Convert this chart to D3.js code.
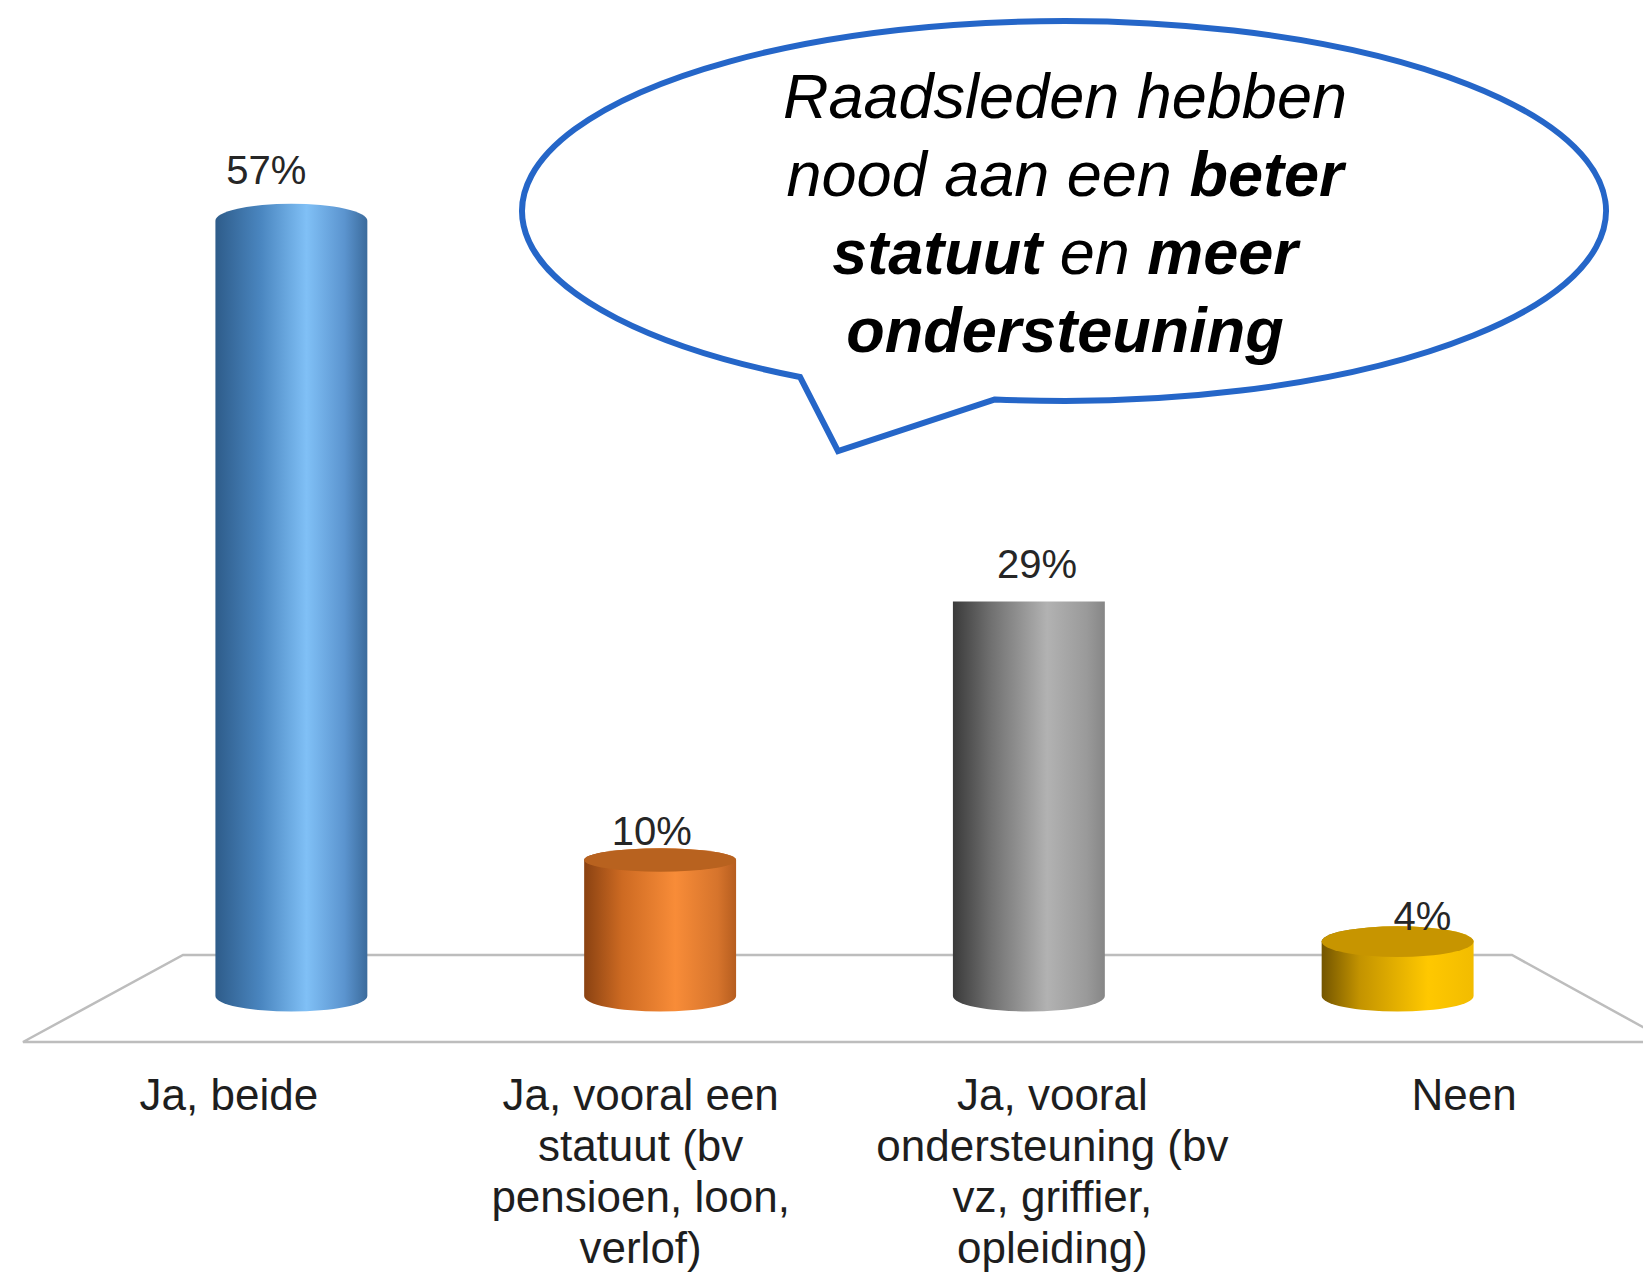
<!DOCTYPE html>
<html>
<head>
<meta charset="utf-8">
<script src="https://cdn.jsdelivr.net/npm/d3@7"></script>
<style>
  body { margin: 0; background: #fff; }
  text { font-family: "Liberation Sans", Arial, sans-serif; }
</style>
</head>
<body>
<div id="chart"></div>
<script>
// data
var categories = ["Ja, beide", "Ja, vooral een statuut", "Ja, vooral ondersteuning", "Neen"];
var categoryLines = [
  ["Ja, beide"],
  ["Ja, vooral een", "statuut (bv", "pensioen, loon,", "verlof)"],
  ["Ja, vooral", "ondersteuning (bv", "vz, griffier,", "opleiding)"],
  ["Neen"]
];
var values = [57, 10, 29, 4];
var valueLabels = ["57%", "10%", "29%", "4%"];

// colours of each cylinder: side gradient stops and top face
var sideStops = [
  [[0, "#2e5c8a"], [0.3, "#4a86c0"], [0.6, "#80c0f6"], [0.85, "#5b94cf"], [1, "#3b6b9c"]],
  [[0, "#8a4212"], [0.25, "#cd6a22"], [0.6, "#f88c38"], [0.88, "#d6742c"], [1, "#b65d1f"]],
  [[0, "#3a3a3a"], [0.25, "#707070"], [0.62, "#b2b2b2"], [0.88, "#9a9a9a"], [1, "#868686"]],
  [[0, "#735500"], [0.25, "#c39300"], [0.7, "#ffc800"], [1, "#f2bc00"]]
];
var topColors = ["#5d98d2", "#b8621f", "#8c8c8c", "#c79500"];

var calloutLines = [
  [["Raadsleden hebben", "normal"]],
  [["nood aan een ", "normal"], ["beter", "bold"]],
  [["statuut", "bold"], [" en ", "normal"], ["meer", "bold"]],
  [["ondersteuning", "bold"]]
];

(function() {
  var width = 1643,
      height = 1273;

  var svg = d3.select("#chart")
    .append("svg")
    .attr("width", width)
    .attr("height", height)

  var defs = svg.append("defs")

  //value scale, the base of the cylinders sits at 0
  var y = d3.scaleLinear().domain([0, 60]).range([996, 180])

  //bars stand on the back part of the floor, labels follow the front edge
  var xBack = d3.scaleBand().domain(categories).range([107, 1582])
    .paddingInner(0.588).paddingOuter(0.294)
  var xFront = d3.scaleBand().domain(categories).range([23, 1670])

  //eye level of the 3d view, tilt of the ellipses
  var eyeY = 600
  function ryAt(yy) {
    return Math.min((yy - eyeY) * 0.045, 15.5)
  }

  //floor
  var backY = 955, frontY = 1042
  svg.append("path")
    .attr("d", "M" + xFront.range()[0] + "," + frontY +
      "L183," + backY + "L1512," + backY +
      "L" + xFront.range()[1] + "," + frontY + "Z")
    .attr("fill", "none")
    .attr("stroke", "#bdbdbd")
    .attr("stroke-width", 2.5)

  //gradients
  sideStops.forEach(function(stops, i) {
    var g = defs.append("linearGradient")
      .attr("id", "side" + i)
      .attr("x1", 0).attr("x2", 1).attr("y1", 0).attr("y2", 0)
    stops.forEach(function(s) {
      g.append("stop").attr("offset", s[0]).attr("stop-color", s[1])
    })
  })

  var bw = xBack.bandwidth()
  var bars = svg.selectAll(".bar")
    .data(values)
    .enter().append("g")
    .attr("class", "bar")

  bars.append("path")
    .attr("d", function(d, i) {
      var cx = xBack(categories[i]) + bw / 2,
          h = bw / 2,
          top = y(d),
          bot = y(0),
          rT = Math.abs(ryAt(top)),
          rB = ryAt(bot)
      return "M" + (cx - h) + "," + top +
        "L" + (cx - h) + "," + bot +
        "A" + h + "," + rB + " 0 0 0 " + (cx + h) + "," + bot +
        "L" + (cx + h) + "," + top +
        "A" + h + "," + Math.max(rT, 0.1) + " 0 0 0 " + (cx - h) + "," + top + "Z"
    })
    .attr("fill", function(d, i) { return "url(#side" + i + ")" })

  //top face only when it is below eye level
  bars.filter(function(d) { return ryAt(y(d)) > 1 })
    .append("ellipse")
    .attr("cx", function(d) { return xBack(categories[values.indexOf(d)]) + bw / 2 })
    .attr("cy", function(d) { return y(d) })
    .attr("rx", bw / 2)
    .attr("ry", function(d) { return ryAt(y(d)) })
    .attr("fill", function(d) { return topColors[values.indexOf(d)] })

  //value labels
  svg.selectAll(".value-label")
    .data(values)
    .enter().append("text")
    .attr("class", "value-label")
    .attr("x", function(d, i) {
      var cx = xBack(categories[i]) + bw / 2
      return cx + (cx - 847) * 0.045
    })
    .attr("y", function(d) {
      var top = y(d)
      return top - 10 - (y(0) - top) * 0.035
    })
    .attr("text-anchor", "middle")
    .attr("font-size", 40)
    .attr("fill", "#262626")
    .text(function(d, i) { return valueLabels[i] })

  //category labels
  var cats = svg.selectAll(".cat-label")
    .data(categories)
    .enter().append("text")
    .attr("class", "cat-label")
    .attr("text-anchor", "middle")
    .attr("font-size", 44)
    .attr("fill", "#1e1e1e")

  cats.selectAll("tspan")
    .data(function(d, i) {
      return categoryLines[i].map(function(l) { return { line: l, x: xFront(d) + xFront.bandwidth() / 2 } })
    })
    .enter().append("tspan")
    .attr("x", function(d) { return d.x })
    .attr("y", function(d, j) { return 1110 + j * 51 })
    .text(function(d) { return d.line })

  //speech bubble
  var bcx = 1064, bcy = 211, brx = 542, bry = 190
  function onEllipse(x) {
    var t = (x - bcx) / brx
    return [x, bcy + bry * Math.sqrt(1 - t * t)]
  }
  var p1 = onEllipse(800), p2 = onEllipse(995)
  svg.append("path")
    .attr("d", "M" + p2[0] + "," + p2[1] +
      "L838,451" +
      "L" + p1[0] + "," + p1[1] +
      "A" + brx + "," + bry + " 0 1 1 " + p2[0] + "," + p2[1] + "Z")
    .attr("fill", "#fff")
    .attr("stroke", "#2566c8")
    .attr("stroke-width", 6)
    .attr("stroke-linejoin", "miter")

  var callout = svg.append("text")
    .attr("text-anchor", "middle")
    .attr("font-size", 63)
    .attr("font-style", "italic")
    .attr("fill", "#000")

  calloutLines.forEach(function(parts, j) {
    var line = callout.append("tspan")
      .attr("x", bcx + 1)
      .attr("y", 118 + j * 78)
    parts.forEach(function(p) {
      line.append("tspan")
        .attr("font-weight", p[1])
        .text(p[0])
    })
  })
})();
</script>
</body>
</html>
